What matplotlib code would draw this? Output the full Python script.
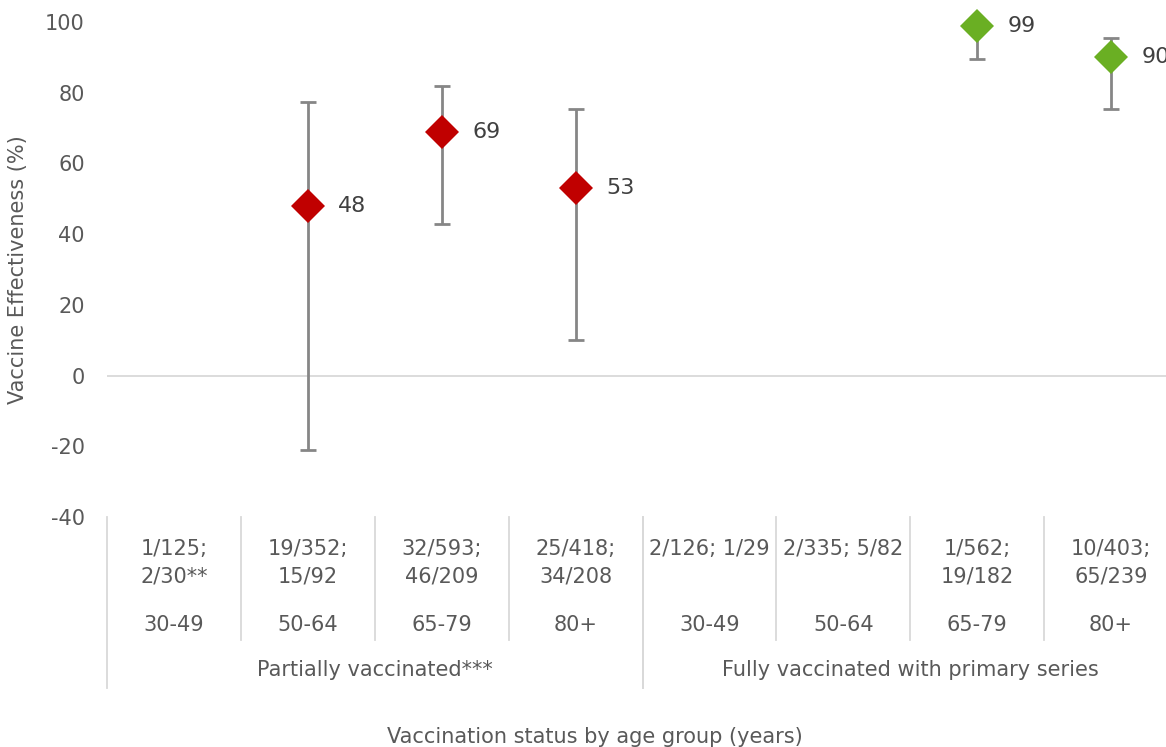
import matplotlib
matplotlib.use("Agg")
import matplotlib.pyplot as plt
from matplotlib.transforms import blended_transform_factory
from matplotlib.lines import Line2D
import numpy as np

plt.rcParams['font.family'] = ['DejaVu Sans']

# ---- data ----
age_groups = ["30-49", "50-64", "65-79", "80+", "30-49", "50-64", "65-79", "80+"]
counts = ["1/125;\n2/30**", "19/352;\n15/92", "32/593;\n46/209", "25/418;\n34/208",
          "2/126; 1/29", "2/335; 5/82", "1/562;\n19/182", "10/403;\n65/239"]
groups = ["Partially vaccinated***", "Fully vaccinated with primary series"]
group_sizes = [4, 4]

ve = [None, 48, 69, 53, None, None, 99, 90]
ci_low = [None, -21, 43, 10, None, None, 89.5, 75.5]
ci_high = [None, 77.5, 82, 75.5, None, None, 100, 95.5]
series_color = ["#C00000", "#C00000", "#C00000", "#C00000",
                "#6AAF23", "#6AAF23", "#6AAF23", "#6AAF23"]

yticks = [-40, -20, 0, 20, 40, 60, 80, 100]
ylabel = "Vaccine Effectiveness (%)"
xlabel = "Vaccination status by age group (years)"

FS = 15
# ---- figure ----
W, H = 1166, 747
fig = plt.figure(figsize=(W / 100, H / 100), dpi=100)
left_px, right_px, top_px, bot_px = 107, 1178, 22, 517
ax = fig.add_axes([left_px / W, 1 - bot_px / H, (right_px - left_px) / W, (bot_px - top_px) / H])
ax.set_xlim(-0.5, len(age_groups) - 0.5)
ax.set_ylim(-40, 100)
for s in ax.spines.values():
    s.set_visible(False)
ax.axhline(0, color="#D9D9D9", lw=1.3, zorder=1)
ax.set_yticks(yticks)
ax.set_yticklabels([str(t) for t in yticks])
ax.tick_params(axis='y', length=0, labelsize=FS, labelcolor="#595959", pad=16)
ax.set_xticks([])
ax.set_ylabel(ylabel, fontsize=FS, color="#595959", labelpad=12)

for i, v in enumerate(ve):
    if v is None:
        continue
    ax.errorbar(i, v, yerr=[[v - ci_low[i]], [ci_high[i] - v]], fmt='none',
                ecolor="#868686", elinewidth=2, capsize=6, capthick=2, zorder=2,
                clip_on=False)
    ax.plot(i, v, marker='D', markersize=17.5, color=series_color[i],
            markeredgewidth=0, linestyle='none', zorder=3, clip_on=False)
    ax.annotate(str(v), (i, v), xytext=(22, 0), textcoords='offset points',
                va='center', ha='left', fontsize=16, color="#404040",
                annotation_clip=False)

# ---- multi-level category axis ----
tr = blended_transform_factory(ax.transData, fig.transFigure)
def fy(px):
    return 1 - px / H

line_col = "#D9D9D9"
for k in range(len(age_groups)):
    ax.text(k, fy(539), counts[k], transform=tr, ha='center', va='top',
            fontsize=FS, color="#595959", linespacing=1.45)
    ax.text(k, fy(625), age_groups[k], transform=tr, ha='center', va='center',
            fontsize=FS, color="#595959")
# separators
start = 0
for gi, gs in enumerate(group_sizes):
    for k in range(start, start + gs + 1):
        xpos = k - 0.5
        long = (k == start) or (k == start + gs)
        yb = 688 if long else 640
        fig.add_artist(Line2D([xpos, xpos], [fy(517), fy(yb)], transform=tr,
                              color=line_col, lw=1.3))
    ax.text(start + (gs - 1) / 2, fy(670), groups[gi], transform=tr, ha='center',
            va='center', fontsize=FS, color="#595959")
    start += gs

fig.text(595 / W, fy(737), xlabel, ha='center', va='center',
         fontsize=FS, color="#595959")

fig.savefig("out.png", dpi=100)
